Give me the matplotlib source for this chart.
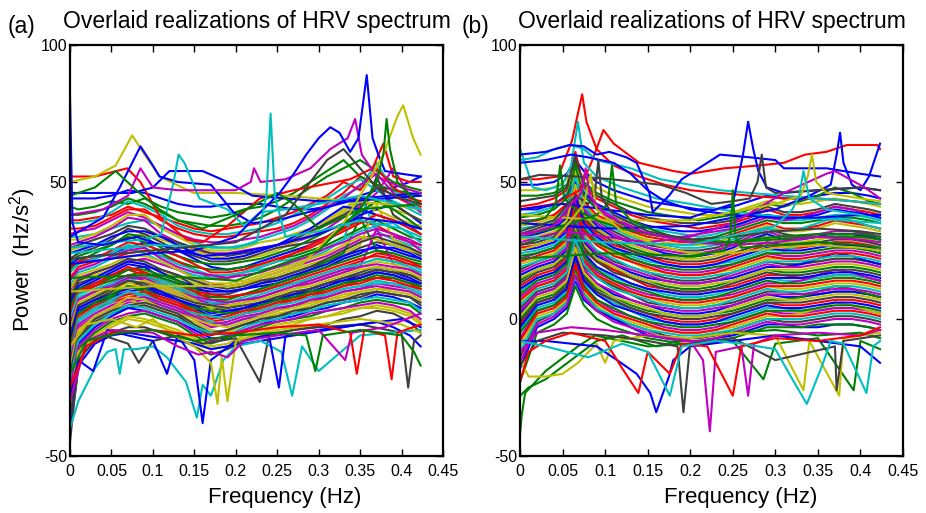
import matplotlib
matplotlib.use("Agg")
import matplotlib.pyplot as plt

plt.rcParams['font.family'] = ['Liberation Sans', 'DejaVu Sans']
plt.rcParams['mathtext.default'] = 'regular'
plt.rcParams['axes.unicode_minus'] = False

# MATLAB default line colour order
MATLAB_COLORS = [(0, 0, 1), (0, 0.5, 0), (1, 0, 0), (0, 0.75, 0.75),
                 (0.75, 0, 0.75), (0.75, 0.75, 0), (0.25, 0.25, 0.25)]

# ---------------- panel (a) ----------------
freq_a = [0, 0.01, 0.03, 0.05, 0.07, 0.09, 0.11, 0.13, 0.15, 0.17, 0.19, 0.21,
          0.23, 0.25, 0.27, 0.29, 0.31, 0.33, 0.35, 0.37, 0.39, 0.41, 0.423]

band_a = [
    [44, 44, 44, 45, 47, 46, 44, 42, 41, 41, 42, 42, 42, 41, 40, 40, 41, 43, 45, 47, 48, 50, 52],
    [38, 38, 39, 41, 44, 42, 39, 36, 35, 34, 34, 35, 37, 40, 44, 48, 52, 55, 58, 54, 50, 48, 47],
    [33, 33, 34, 37, 40, 40, 36, 33, 31, 30, 30, 31, 32, 33, 35, 38, 42, 46, 52, 49, 45, 42, 41],
    [30, 30, 31, 33, 35, 36, 34, 31, 28, 26, 26, 27, 29, 31, 33, 36, 40, 45, 48, 57, 47, 43, 40],
    [27, 28, 30, 33, 37, 36, 31, 28, 25, 24, 24, 25, 26, 27, 28, 30, 33, 37, 41, 46, 55, 45, 42],
    [25, 26, 27, 28, 30, 31, 29, 27, 25, 23, 22, 22, 23, 25, 28, 31, 35, 39, 44, 40, 37, 35, 34],
    [22, 24, 26, 29, 33, 31, 28, 25, 23, 21, 21, 22, 24, 26, 27, 28, 30, 33, 36, 52, 38, 34, 31],
    [20, 22, 23, 24, 26, 28, 27, 25, 22, 19, 18, 19, 21, 23, 25, 27, 30, 34, 38, 40, 42, 38, 35],
    [18, 21, 24, 27, 30, 28, 24, 21, 19, 18, 18, 19, 20, 22, 23, 25, 27, 30, 33, 36, 33, 30, 29],
    [15, 19, 21, 22, 24, 25, 23, 21, 18, 15, 15, 17, 19, 21, 24, 27, 30, 33, 36, 34, 31, 28, 27],
    [12, 17, 19, 22, 26, 24, 21, 18, 16, 15, 16, 17, 18, 19, 20, 22, 25, 29, 45, 32, 29, 27, 26],
    [10, 15, 17, 19, 21, 22, 20, 18, 15, 13, 12, 13, 15, 17, 19, 21, 23, 26, 29, 31, 30, 28, 25],
    [9, 14, 16, 18, 21, 20, 17, 15, 13, 12, 12, 13, 14, 16, 18, 20, 22, 24, 27, 42, 29, 26, 24],
    [7, 13, 15, 16, 18, 19, 18, 16, 12, 9, 9, 11, 13, 15, 17, 19, 21, 23, 26, 28, 27, 25, 23],
    [5, 11, 14, 17, 20, 19, 15, 13, 11, 10, 10, 11, 12, 13, 15, 17, 19, 22, 24, 27, 25, 23, 22],
    [3, 10, 12, 14, 16, 17, 15, 13, 10, 7, 7, 9, 11, 13, 15, 18, 21, 24, 37, 25, 23, 21, 20],
    [1, 9, 12, 15, 18, 16, 13, 11, 9, 8, 8, 9, 10, 12, 13, 15, 17, 19, 21, 24, 23, 21, 19],
    [-1, 8, 10, 12, 14, 15, 13, 11, 8, 5, 6, 8, 10, 12, 13, 14, 16, 18, 20, 22, 21, 20, 18],
    [-3, 7, 10, 13, 16, 14, 11, 9, 7, 6, 5, 6, 8, 10, 12, 14, 16, 18, 19, 33, 20, 18, 17],
    [-5, 5, 8, 10, 12, 13, 11, 9, 6, 3, 4, 6, 7, 9, 11, 13, 15, 17, 19, 21, 20, 18, 16],
    [-7, 4, 7, 10, 14, 12, 9, 7, 5, 4, 3, 4, 6, 8, 10, 11, 13, 15, 17, 19, 18, 16, 15],
    [-9, 3, 6, 8, 10, 11, 9, 7, 4, 1, 2, 4, 5, 7, 9, 11, 13, 14, 16, 18, 17, 15, 13],
    [-11, 2, 5, 8, 12, 10, 7, 5, 3, 1, 0, 2, 4, 6, 8, 9, 11, 13, 15, 17, 16, 14, 12],
    [-13, 0, 4, 6, 8, 9, 7, 5, 2, -1, 0, 2, 3, 5, 7, 8, 10, 12, 14, 15, 15, 13, 11],
    [-15, -1, 3, 6, 10, 8, 5, 3, 1, -1, -2, 0, 2, 4, 5, 7, 9, 11, 12, 14, 13, 12, 10],
    [-17, -3, 1, 4, 6, 7, 5, 3, 0, -3, -2, 0, 1, 3, 5, 6, 8, 10, 11, 13, 12, 11, 9],
    [-19, -5, 0, 3, 7, 5, 3, 1, -1, -4, -5, -2, 0, 2, 3, 5, 7, 8, 10, 11, 11, 10, 8],
    [-21, -7, -1, 2, 4, 5, 3, 1, -3, -6, -4, -2, -1, 1, 2, 4, 6, 7, 9, 10, 9, 8, 6],
    [-24, -9, -3, 1, 4, 3, 1, -1, -4, -7, -7, -4, -2, 0, 1, 3, 4, 6, 7, 9, 8, 6, 4],
    [-27, -11, -5, -1, 1, 2, 0, -2, -6, -9, -7, -5, -3, -1, 0, 1, 3, 4, 6, 7, 6, 5, 2],
    [-31, -13, -7, -3, 0, -1, -3, -5, -8, -11, -10, -7, -5, -3, -2, 0, 1, 2, 4, 5, 4, 2, -1],
    [-36, -15, -8, -5, -3, -3, -5, -7, -10, -13, -11, -8, -6, -5, -4, -3, -2, 0, 1, 3, 2, -1, -5],
    [-42, -17, -9, -6, -5, -6, -7, -8, -9, -11, -10, -9, -8, -7, -6, -5, -4, -3, -2, -1, -3, -6, -10],
    # second batch, sitting between the first ones
    [41, 40, 41, 43, 42, 44, 41, 39, 38, 37, 38, 40, 41, 43, 46, 50, 54, 58, 52, 49, 47, 46, 45],
    [36, 36, 37, 38, 41, 39, 37, 35, 33, 32, 33, 34, 35, 37, 39, 42, 45, 50, 47, 55, 48, 44, 43],
    [35, 35, 36, 39, 43, 41, 38, 34, 32, 31, 31, 32, 33, 35, 38, 41, 44, 48, 51, 47, 43, 40, 38],
    [31, 32, 33, 36, 39, 37, 34, 31, 29, 28, 28, 29, 30, 32, 34, 37, 41, 44, 49, 53, 46, 42, 39],
    [29, 29, 31, 34, 38, 38, 33, 30, 27, 25, 25, 26, 28, 29, 31, 33, 36, 40, 45, 43, 40, 38, 36],
    [26, 27, 29, 31, 34, 33, 30, 28, 26, 24, 23, 24, 25, 27, 29, 32, 35, 38, 42, 48, 42, 38, 36],
    [24, 25, 27, 30, 32, 32, 30, 27, 24, 22, 22, 23, 25, 27, 30, 33, 37, 41, 40, 38, 36, 34, 33],
    [21, 23, 25, 27, 31, 30, 26, 23, 21, 20, 20, 21, 22, 24, 26, 29, 32, 35, 39, 43, 40, 36, 33],
    [19, 21, 22, 25, 28, 27, 25, 23, 20, 17, 17, 18, 20, 22, 24, 26, 29, 32, 35, 38, 36, 33, 31],
    [17, 20, 22, 24, 27, 26, 23, 20, 18, 16, 16, 17, 19, 21, 22, 24, 26, 29, 32, 34, 35, 31, 28],
    [14, 18, 20, 23, 25, 26, 22, 19, 17, 16, 15, 16, 17, 19, 21, 23, 26, 28, 31, 33, 31, 29, 27],
    [11, 16, 18, 20, 23, 23, 21, 18, 15, 13, 13, 14, 16, 18, 20, 22, 24, 27, 30, 29, 27, 25, 24],
    [8, 14, 17, 19, 22, 21, 18, 16, 14, 12, 11, 12, 14, 15, 17, 19, 22, 25, 28, 30, 28, 26, 24],
    [6, 12, 15, 18, 21, 20, 17, 14, 12, 11, 10, 11, 13, 14, 16, 18, 20, 23, 25, 26, 26, 24, 22],
    [4, 11, 13, 15, 18, 18, 16, 14, 11, 8, 8, 9, 11, 13, 15, 17, 19, 21, 23, 25, 24, 22, 21],
    [2, 10, 13, 16, 19, 17, 14, 12, 10, 9, 8, 9, 10, 12, 14, 16, 18, 20, 22, 23, 22, 20, 19],
    [0, 9, 11, 13, 15, 16, 14, 12, 9, 6, 6, 7, 9, 11, 13, 15, 17, 19, 20, 22, 21, 19, 17],
    [-2, 7, 10, 12, 15, 15, 12, 10, 8, 7, 6, 7, 8, 10, 12, 13, 15, 17, 19, 20, 19, 18, 16],
    [-4, 6, 9, 11, 13, 14, 12, 10, 7, 4, 5, 6, 7, 9, 11, 12, 14, 16, 18, 19, 18, 17, 15],
    [-6, 5, 8, 11, 14, 13, 10, 8, 6, 5, 4, 5, 6, 8, 9, 11, 13, 15, 16, 18, 17, 16, 14],
    [-8, 4, 7, 9, 11, 12, 10, 7, 5, 2, 3, 4, 6, 7, 9, 10, 12, 14, 15, 17, 16, 14, 13],
    [-10, 2, 6, 9, 12, 11, 8, 6, 4, 3, 2, 3, 5, 7, 8, 10, 11, 13, 14, 16, 15, 13, 12],
    [-12, 1, 5, 7, 9, 10, 8, 6, 3, 0, 1, 3, 4, 6, 7, 9, 10, 12, 13, 15, 14, 12, 11],
    [-14, 0, 4, 7, 10, 9, 6, 4, 2, 1, 0, 2, 3, 5, 6, 8, 9, 11, 12, 13, 13, 11, 9],
    [-16, -2, 2, 5, 7, 8, 6, 4, 1, -2, -1, 1, 2, 4, 5, 7, 8, 10, 11, 12, 11, 10, 8],
    [-18, -4, 1, 4, 8, 7, 4, 2, 0, -2, -3, -1, 1, 3, 4, 6, 7, 9, 10, 11, 10, 9, 7],
    [-20, -6, 0, 3, 5, 6, 4, 2, -2, -5, -4, -2, 0, 1, 3, 4, 6, 7, 8, 10, 9, 8, 5],
    [-23, -8, -2, 2, 5, 4, 2, 0, -3, -5, -6, -3, -1, 0, 2, 3, 5, 6, 7, 8, 7, 6, 3],
    [-26, -10, -4, 0, 2, 3, 1, -1, -5, -8, -6, -4, -2, -1, 0, 2, 3, 4, 5, 6, 5, 3, 0],
    [-30, -12, -6, -2, 1, 0, -2, -4, -7, -10, -9, -6, -4, -2, -1, 0, 1, 3, 4, 4, 3, 1, -2],
]

# individual realizations with sharp peaks / dips in (a)
extra_a = [
    ([0, 0.03, 0.069, 0.085, 0.109, 0.141, 0.16, 0.19, 0.229, 0.27, 0.338, 0.365, 0.378, 0.39, 0.41, 0.423],
     [52, 52, 55, 50, 37, 29, 28, 34, 44, 47, 51, 55, 64, 52, 50, 50]),
    ([0, 0.03, 0.055, 0.075, 0.09, 0.108, 0.149, 0.2, 0.26, 0.3, 0.34, 0.38, 0.423],
     [50, 52, 56, 67, 60, 52, 46, 46, 45, 44, 43, 42, 40]),
    ([0, 0.04, 0.06, 0.085, 0.1, 0.108, 0.13, 0.17, 0.197, 0.22, 0.25, 0.3, 0.35, 0.423],
     [30, 37, 48, 63, 56, 52, 50, 49, 39, 35, 36, 40, 44, 46]),
    ([0, 0.05, 0.075, 0.1, 0.12, 0.16, 0.19, 0.22, 0.26, 0.3, 0.34, 0.38, 0.423],
     [46, 46, 46, 48, 54, 54, 50, 45, 44, 43, 43, 44, 45]),
    ([0, 0.05, 0.09, 0.11, 0.125, 0.131, 0.138, 0.156, 0.19, 0.21, 0.23, 0.26, 0.3, 0.35, 0.423],
     [26, 28, 29, 31, 50, 60, 57, 44, 40, 34, 39, 40, 42, 45, 40]),
    ([0, 0.04, 0.07, 0.085, 0.1, 0.13, 0.17, 0.2, 0.218, 0.222, 0.23, 0.26, 0.29, 0.314, 0.335, 0.344, 0.352, 0.37, 0.4, 0.423],
     [38, 40, 45, 55, 48, 47, 47, 47, 50, 55, 50, 51, 55, 62, 66, 73, 60, 52, 48, 46]),
    ([0, 0.03, 0.055, 0.08, 0.108, 0.13, 0.16, 0.2, 0.25, 0.27, 0.3, 0.35, 0.423],
     [45, 48, 54, 47, 40, 36, 33, 38, 46, 42, 33, 40, 42]),
    ([0, 0.003, 0.01, 0.04, 0.08, 0.12, 0.16, 0.2, 0.25, 0.3, 0.35, 0.4, 0.423],
     [81, 35, 28, 27, 30, 26, 23, 24, 27, 31, 37, 35, 33]),
    ([0, 0.05, 0.1, 0.15, 0.2, 0.253, 0.27, 0.285, 0.3, 0.314, 0.325, 0.338, 0.348, 0.358, 0.365, 0.372, 0.38, 0.4, 0.423],
     [20, 22, 24, 25, 30, 46, 53, 60, 66, 70, 68, 61, 66, 89, 66, 60, 54, 53, 52]),
    ([0, 0.1, 0.2, 0.28, 0.33, 0.36, 0.378, 0.395, 0.402, 0.414, 0.423],
     [10, 12, 12, 20, 35, 50, 60, 74, 78, 66, 60]),
    ([0, 0.1, 0.2, 0.3, 0.35, 0.37, 0.378, 0.382, 0.386, 0.395, 0.41, 0.423],
     [15, 16, 14, 25, 40, 50, 60, 73, 62, 50, 45, 42]),
    ([0, 0.1, 0.2, 0.225, 0.237, 0.242, 0.247, 0.26, 0.3, 0.35, 0.4, 0.423],
     [24, 27, 26, 28, 45, 75, 45, 30, 32, 36, 33, 30]),
    ([0, 0.1, 0.2, 0.26, 0.29, 0.31, 0.33, 0.35, 0.37, 0.4, 0.423],
     [22, 25, 28, 38, 50, 58, 62, 55, 48, 44, 42]),
    ([0, 0.005, 0.01, 0.02, 0.04, 0.07, 0.083, 0.1, 0.13, 0.16, 0.2, 0.229, 0.24, 0.27, 0.3, 0.35, 0.4, 0.408, 0.415, 0.423],
     [-45, -30, -18, -10, -6, -9, -16, -8, -6, -9, -7, -23, -6, -4, -3, -2, -5, -25, -8, -6]),
    ([0, 0.01, 0.03, 0.045, 0.055, 0.06, 0.065, 0.08, 0.1, 0.117, 0.14, 0.153, 0.16, 0.17, 0.185, 0.2, 0.23, 0.255, 0.268, 0.28, 0.3, 0.35, 0.423],
     [-40, -30, -18, -12, -11, -20, -11, -11, -10, -14, -23, -36, -24, -28, -15, -10, -8, -12, -28, -10, -19, -6, -4]),
    ([0, 0.01, 0.028, 0.045, 0.07, 0.1, 0.117, 0.13, 0.15, 0.16, 0.17, 0.2, 0.24, 0.252, 0.26, 0.3, 0.35, 0.4, 0.423],
     [-28, -15, -19, -4, -6, -8, -20, -6, -15, -38, -15, -8, -6, -25, -6, -4, -2, 0, -3]),
    ([0, 0.02, 0.05, 0.08, 0.1, 0.12, 0.15, 0.17, 0.178, 0.183, 0.19, 0.2, 0.25, 0.3, 0.35, 0.4, 0.423],
     [-10, -2, 0, -3, 0, -5, -10, -16, -31, -14, -30, -8, -4, -2, 0, -2, -5]),
    ([0, 0.02, 0.05, 0.1, 0.13, 0.155, 0.17, 0.19, 0.21, 0.25, 0.3, 0.332, 0.34, 0.38, 0.423],
     [-30, -8, -4, -5, -10, -13, -12, -14, -8, -6, -4, -15, -5, -3, 2]),
    ([0, 0.02, 0.05, 0.1, 0.15, 0.2, 0.25, 0.3, 0.338, 0.346, 0.355, 0.38, 0.388, 0.395, 0.423],
     [-25, -10, -5, -4, -6, -5, -3, -2, -5, -20, -4, -6, -22, -5, -2]),
    ([0, 0.02, 0.06, 0.1, 0.15, 0.2, 0.25, 0.285, 0.296, 0.305, 0.35, 0.4, 0.415, 0.423],
     [-20, -8, -5, -4, -8, -6, -5, -6, -19, -6, -4, -6, -12, -17]),
]
extra_a_colors = ['r', 'y', 'b', 'b', 'c', 'm', 'g', 'b', 'b', 'y', 'g', 'c', 'k',
                  'k', 'c', 'b', 'y', 'm', 'r', 'g']

# ---------------- panel (b) ----------------
freq_b = [0, 0.02, 0.04, 0.055, 0.065, 0.075, 0.09, 0.11, 0.13, 0.15, 0.17, 0.19,
          0.21, 0.23, 0.25, 0.27, 0.29, 0.31, 0.33, 0.35, 0.37, 0.39, 0.41, 0.423]

band_b = [
    [49, 49, 50, 53, 58, 54, 50, 47, 45, 43, 42, 41, 40, 40, 41, 43, 45, 44, 44, 45, 46, 46, 45, 44],
    [45, 45, 46, 49, 57, 50, 46, 43, 41, 39, 38, 37, 36, 37, 38, 40, 42, 41, 43, 45, 48, 46, 43, 42],
    [41, 42, 44, 47, 61, 48, 44, 41, 38, 36, 35, 34, 33, 34, 35, 37, 40, 38, 38, 39, 41, 40, 39, 38],
    [38, 39, 41, 46, 52, 47, 42, 38, 35, 33, 32, 31, 30, 31, 33, 36, 38, 36, 36, 37, 38, 38, 37, 36],
    [36, 36, 38, 41, 49, 45, 41, 37, 34, 31, 30, 30, 31, 32, 33, 35, 37, 36, 37, 39, 41, 40, 38, 37],
    [34, 35, 37, 41, 54, 42, 37, 34, 31, 29, 28, 27, 27, 28, 30, 32, 34, 32, 32, 33, 35, 34, 33, 32],
    [31, 33, 35, 39, 46, 41, 36, 32, 29, 27, 26, 25, 25, 26, 28, 31, 33, 31, 30, 30, 31, 31, 30, 29],
    [30, 31, 33, 37, 50, 39, 34, 30, 28, 26, 24, 23, 23, 24, 26, 29, 31, 29, 29, 30, 31, 31, 30, 29],
    [27, 29, 31, 35, 44, 38, 33, 29, 26, 24, 23, 22, 23, 25, 27, 29, 30, 28, 27, 27, 28, 27, 26, 25],
    [26, 27, 29, 33, 47, 36, 31, 27, 25, 23, 21, 20, 20, 21, 23, 25, 27, 26, 26, 27, 28, 28, 27, 26],
    [24, 25, 27, 31, 41, 34, 29, 26, 23, 21, 20, 19, 19, 20, 21, 23, 25, 25, 27, 29, 31, 30, 28, 27],
    [22, 24, 26, 30, 43, 33, 28, 24, 22, 20, 18, 17, 17, 18, 20, 22, 24, 23, 23, 24, 25, 25, 24, 23],
    [20, 22, 24, 28, 38, 31, 27, 24, 21, 18, 17, 16, 16, 17, 18, 20, 22, 22, 21, 21, 22, 22, 21, 20],
    [18, 21, 23, 27, 40, 30, 25, 21, 19, 17, 15, 14, 14, 15, 17, 19, 21, 20, 20, 21, 22, 22, 21, 20],
    [16, 19, 21, 25, 35, 28, 23, 20, 17, 15, 14, 13, 13, 14, 15, 17, 19, 19, 20, 22, 24, 23, 21, 20],
    [14, 18, 20, 24, 37, 27, 22, 18, 16, 14, 12, 11, 11, 12, 14, 16, 18, 17, 17, 18, 19, 19, 18, 17],
    [12, 16, 18, 22, 32, 25, 21, 18, 15, 12, 11, 10, 10, 11, 12, 14, 16, 16, 15, 15, 16, 16, 15, 14],
    [10, 15, 17, 21, 34, 24, 19, 15, 13, 11, 9, 8, 8, 9, 11, 13, 15, 14, 14, 15, 16, 16, 15, 14],
    [8, 13, 15, 19, 29, 22, 17, 14, 11, 9, 8, 7, 7, 8, 9, 11, 13, 13, 14, 16, 18, 17, 15, 14],
    [6, 12, 14, 18, 31, 21, 16, 12, 10, 8, 6, 5, 5, 6, 8, 10, 12, 11, 11, 12, 13, 13, 12, 11],
    [4, 10, 12, 16, 26, 19, 15, 12, 9, 6, 5, 4, 4, 5, 6, 8, 10, 10, 9, 9, 10, 10, 9, 8],
    [2, 9, 11, 15, 28, 18, 13, 9, 7, 5, 3, 2, 2, 3, 5, 7, 9, 8, 8, 9, 10, 10, 9, 8],
    [0, 7, 9, 13, 23, 16, 11, 8, 5, 3, 2, 1, 1, 2, 3, 5, 7, 7, 8, 10, 12, 11, 9, 8],
    [-2, 6, 8, 12, 25, 15, 10, 6, 4, 2, 0, -1, -1, 0, 2, 4, 6, 5, 5, 6, 7, 7, 6, 5],
    [-4, 4, 6, 10, 20, 13, 9, 6, 3, 0, -1, -2, -2, -1, 0, 2, 4, 4, 3, 3, 4, 4, 3, 2],
    [-7, 3, 5, 9, 22, 12, 7, 3, 1, -1, -3, -4, -4, -3, -1, 1, 3, 2, 2, 3, 4, 4, 3, 2],
    [-10, 1, 3, 7, 17, 10, 5, 2, -1, -3, -4, -5, -5, -4, -3, -1, 1, 1, 2, 4, 6, 5, 3, 2],
    [-14, -1, 2, 6, 19, 9, 4, 0, -2, -4, -6, -7, -7, -6, -4, -2, 0, -1, -1, 0, 1, 1, 0, -1],
    [-18, -3, 0, 4, 14, 7, 3, 0, -3, -6, -7, -8, -8, -7, -6, -4, -2, -2, -3, -3, -2, -2, -3, -4],
    [-23, -5, -2, 2, 12, 5, 0, -3, -5, -7, -8, -9, -9, -8, -7, -5, -3, -3, -3, -2, -2, -2, -3, -4],
    # second batch
    [47, 47, 48, 51, 55, 52, 48, 45, 43, 41, 40, 39, 38, 38, 39, 41, 43, 42, 42, 43, 44, 43, 42, 41],
    [43, 44, 45, 48, 59, 49, 45, 42, 39, 37, 36, 35, 35, 35, 36, 38, 41, 39, 39, 40, 42, 41, 40, 39],
    [40, 40, 42, 45, 50, 46, 42, 39, 36, 34, 33, 32, 32, 33, 34, 36, 38, 37, 37, 38, 40, 39, 38, 37],
    [37, 38, 40, 44, 56, 45, 40, 36, 33, 31, 30, 29, 29, 30, 32, 34, 36, 35, 35, 36, 37, 37, 36, 35],
    [35, 36, 38, 42, 48, 43, 38, 35, 32, 30, 29, 28, 28, 29, 31, 33, 35, 33, 33, 34, 36, 35, 34, 33],
    [33, 34, 36, 40, 52, 41, 36, 33, 30, 28, 27, 26, 26, 27, 29, 31, 33, 32, 33, 35, 37, 36, 34, 33],
    [31, 32, 34, 38, 45, 40, 35, 31, 28, 26, 25, 24, 24, 25, 27, 30, 32, 30, 30, 31, 32, 32, 31, 30],
    [29, 30, 32, 36, 49, 38, 33, 29, 27, 25, 23, 22, 22, 23, 25, 28, 30, 28, 28, 29, 30, 30, 29, 28],
    [27, 28, 30, 34, 42, 37, 32, 28, 25, 23, 22, 21, 21, 22, 24, 26, 28, 27, 27, 28, 29, 29, 28, 27],
    [25, 26, 28, 32, 45, 35, 30, 26, 24, 22, 20, 19, 19, 20, 22, 24, 26, 25, 25, 26, 27, 27, 26, 25],
    [23, 24, 26, 30, 39, 33, 28, 25, 22, 20, 19, 18, 18, 19, 20, 22, 24, 24, 24, 25, 26, 26, 25, 24],
    [21, 23, 25, 29, 42, 32, 27, 23, 21, 19, 17, 16, 16, 17, 19, 21, 23, 22, 22, 23, 24, 24, 23, 22],
    [19, 21, 23, 27, 36, 30, 25, 22, 19, 17, 16, 15, 15, 16, 17, 19, 21, 21, 21, 22, 23, 23, 22, 21],
    [17, 20, 22, 26, 38, 29, 24, 20, 18, 16, 14, 13, 13, 14, 16, 18, 20, 19, 19, 20, 21, 21, 20, 19],
    [15, 18, 20, 24, 33, 27, 22, 19, 16, 14, 13, 12, 12, 13, 14, 16, 18, 18, 18, 19, 20, 20, 19, 18],
    [13, 17, 19, 23, 35, 26, 21, 17, 15, 13, 11, 10, 10, 11, 13, 15, 17, 16, 16, 17, 18, 18, 17, 16],
    [11, 15, 17, 21, 30, 24, 19, 16, 13, 11, 10, 9, 9, 10, 11, 13, 15, 15, 15, 16, 17, 17, 16, 15],
    [9, 14, 16, 20, 32, 23, 18, 14, 12, 10, 8, 7, 7, 8, 10, 12, 14, 13, 13, 14, 15, 15, 14, 13],
    [7, 12, 14, 18, 27, 21, 16, 13, 10, 8, 7, 6, 6, 7, 8, 10, 12, 12, 12, 13, 14, 14, 13, 12],
    [5, 11, 13, 17, 29, 20, 15, 11, 9, 7, 5, 4, 4, 5, 7, 9, 11, 10, 10, 11, 12, 12, 11, 10],
    [3, 9, 11, 15, 24, 18, 13, 10, 7, 5, 4, 3, 3, 4, 5, 7, 9, 9, 9, 10, 11, 11, 10, 9],
    [1, 8, 10, 14, 26, 17, 12, 8, 6, 4, 2, 1, 1, 2, 4, 6, 8, 7, 7, 8, 9, 9, 8, 7],
    [-1, 6, 8, 12, 21, 15, 10, 7, 4, 2, 1, 0, 0, 1, 2, 4, 6, 6, 6, 7, 8, 8, 7, 6],
    [-3, 5, 7, 11, 23, 14, 9, 5, 3, 1, -1, -2, -2, -1, 1, 3, 5, 4, 4, 5, 6, 6, 5, 4],
    [-5, 3, 5, 9, 18, 12, 7, 4, 1, -1, -2, -3, -3, -2, -1, 1, 3, 3, 3, 4, 5, 5, 4, 3],
    [-8, 2, 4, 8, 20, 11, 6, 2, 0, -2, -4, -5, -5, -4, -2, 0, 2, 1, 1, 2, 3, 3, 2, 1],
    [-12, 0, 2, 6, 15, 9, 4, 1, -2, -4, -5, -6, -6, -5, -4, -2, 0, 0, 0, 1, 2, 2, 1, 0],
    [-16, -2, 1, 5, 16, 8, 3, -1, -3, -5, -7, -8, -8, -7, -5, -3, -1, -2, -2, -1, 0, 0, -1, -2],
]

extra_b = [
    ([0, 0.02, 0.045, 0.061, 0.068, 0.073, 0.078, 0.09, 0.11, 0.14, 0.17, 0.2, 0.235, 0.27, 0.31, 0.35, 0.39, 0.423],
     [51, 51, 52, 65, 75, 82, 72, 62, 56, 52, 49, 47, 46, 45, 44, 44, 43, 42]),
    ([0, 0.04, 0.07, 0.085, 0.098, 0.11, 0.14, 0.18, 0.2, 0.24, 0.28, 0.31, 0.335, 0.36, 0.384, 0.41, 0.42, 0.423],
     [40, 42, 47, 58, 69, 64, 57, 54, 53, 55, 56, 57, 60, 61, 63.5, 63.5, 63.5, 62]),
    ([0, 0.008, 0.015, 0.03, 0.05, 0.06, 0.068, 0.075, 0.09, 0.12, 0.16, 0.2, 0.235, 0.28, 0.33, 0.38, 0.423],
     [62, 55, 48, 47, 49, 56, 72, 57, 52, 48, 44, 42, 40, 38, 37, 36, 35]),
    ([0, 0.02, 0.04, 0.06, 0.075, 0.09, 0.13, 0.165, 0.2, 0.235, 0.27, 0.31, 0.35, 0.39, 0.423],
     [58, 59, 62, 63.5, 62, 58, 55, 51, 49, 47, 46, 45, 44, 43, 42]),
    ([0, 0.03, 0.058, 0.075, 0.09, 0.105, 0.125, 0.137, 0.152, 0.156, 0.175, 0.19, 0.215, 0.235, 0.27, 0.3, 0.31, 0.36, 0.4, 0.423],
     [60, 61, 63.5, 63, 60, 61, 59, 57, 46, 39, 45, 51, 56, 60, 59, 58, 55, 55, 53, 52]),
    ([0, 0.03, 0.06, 0.08, 0.11, 0.13, 0.15, 0.17, 0.2, 0.25, 0.3, 0.35, 0.4, 0.423],
     [57, 58, 60, 59, 57, 53, 47, 43, 40, 38, 37, 37, 38, 38]),
    ([0, 0.05, 0.1, 0.15, 0.2, 0.25, 0.262, 0.268, 0.274, 0.28, 0.29, 0.31, 0.35, 0.4, 0.423],
     [40, 42, 40, 38, 37, 42, 60, 72, 62, 54, 48, 46, 47, 48, 47]),
    ([0, 0.1, 0.2, 0.3, 0.34, 0.365, 0.372, 0.376, 0.38, 0.39, 0.4, 0.41, 0.423],
     [35, 33, 34, 40, 45, 49, 60, 68, 57, 49, 47, 52, 64]),
    ([0, 0.023, 0.068, 0.108, 0.165, 0.195, 0.225, 0.25, 0.27, 0.279, 0.284, 0.289, 0.3, 0.35, 0.4, 0.423],
     [51, 52.6, 52, 51, 49, 46, 42, 43, 44, 50, 60, 48, 46, 47, 48, 47]),
    ([0, 0.05, 0.1, 0.15, 0.2, 0.25, 0.31, 0.36, 0.37, 0.405, 0.423],
     [28, 32, 30, 28, 30, 35, 46, 53, 54, 48, 44]),
    ([0, 0.1, 0.2, 0.3, 0.33, 0.338, 0.343, 0.348, 0.36, 0.4, 0.423],
     [38, 36, 36, 42, 45, 52, 60, 50, 46, 44, 43]),
    ([0, 0.03, 0.042, 0.047, 0.052, 0.065, 0.09, 0.12, 0.15, 0.2, 0.25, 0.3, 0.35, 0.4, 0.423],
     [35, 37, 42, 56, 44, 40, 36, 33, 31, 29, 28, 30, 31, 31, 30]),
    ([0, 0.05, 0.09, 0.103, 0.108, 0.113, 0.13, 0.16, 0.2, 0.25, 0.3, 0.35, 0.4, 0.423],
     [30, 34, 38, 42, 56, 42, 36, 32, 28, 28, 29, 30, 30, 29]),
    ([0, 0.04, 0.065, 0.08, 0.088, 0.092, 0.096, 0.11, 0.15, 0.2, 0.25, 0.3, 0.35, 0.4, 0.423],
     [32, 36, 45, 42, 46, 58, 44, 38, 32, 29, 30, 32, 33, 32, 31]),
    ([0, 0.04, 0.06, 0.075, 0.083, 0.09, 0.12, 0.16, 0.2, 0.25, 0.3, 0.35, 0.4, 0.423],
     [25, 29, 36, 42, 53, 40, 32, 27, 24, 24, 26, 27, 26, 25]),
    ([0, 0.04, 0.06, 0.072, 0.077, 0.082, 0.1, 0.14, 0.2, 0.25, 0.3, 0.35, 0.4, 0.423],
     [30, 34, 42, 46, 55, 45, 38, 32, 28, 27, 28, 30, 29, 28]),
    ([0, 0.1, 0.2, 0.24, 0.247, 0.25, 0.253, 0.26, 0.3, 0.35, 0.4, 0.423],
     [22, 24, 23, 25, 30, 47, 30, 26, 27, 28, 27, 26]),
    ([0, 0.1, 0.2, 0.3, 0.32, 0.328, 0.333, 0.34, 0.36, 0.4, 0.423],
     [30, 28, 27, 34, 40, 45, 54, 44, 40, 38, 36]),
    ([0, 0.002, 0.006, 0.03, 0.068, 0.088, 0.12, 0.15, 0.2, 0.25, 0.286, 0.3, 0.35, 0.392, 0.4, 0.423],
     [-42, -35, -27, -19, -10, -6, -8, -10, -9, -8, -22, -9, -7, -26, -8, -11]),
    ([0, 0.01, 0.03, 0.06, 0.09, 0.12, 0.16, 0.2, 0.25, 0.3, 0.35, 0.4, 0.423],
     [-28, -25, -22, -15, -8, -6, -10, -7, -5, -4, -6, -5, -7]),
    ([0, 0.01, 0.03, 0.05, 0.068, 0.09, 0.1, 0.11, 0.15, 0.2, 0.25, 0.3, 0.333, 0.34, 0.375, 0.38, 0.423],
     [-15, -21, -21, -20, -16, -9, -16, -8, -6, -7, -5, -6, -26, -8, -28, -7, -5]),
    ([0, 0.03, 0.06, 0.09, 0.114, 0.137, 0.153, 0.16, 0.168, 0.175, 0.18, 0.2, 0.25, 0.3, 0.35, 0.4, 0.423],
     [-8, -8, -9, -10, -15, -20, -27, -34, -27, -21, -15, -10, -8, -6, -8, -10, -16]),
    ([0, 0.02, 0.05, 0.1, 0.15, 0.185, 0.192, 0.2, 0.25, 0.3, 0.37, 0.372, 0.38, 0.423],
     [-17, -8, -5, -6, -8, -10, -34, -9, -7, -15, -10, -26, -8, -6]),
    ([0, 0.02, 0.06, 0.1, 0.15, 0.2, 0.215, 0.223, 0.23, 0.26, 0.268, 0.275, 0.3, 0.35, 0.4, 0.423],
     [-12, -5, -3, -4, -6, -8, -15, -41, -12, -10, -28, -9, -6, -5, -6, -4]),
    ([0, 0.01, 0.03, 0.06, 0.1, 0.12, 0.139, 0.15, 0.176, 0.19, 0.22, 0.25, 0.26, 0.3, 0.35, 0.4, 0.423],
     [-23, -12, -8, -5, -8, -18, -27, -12, -20, -9, -10, -28, -10, -7, -8, -6, -3]),
    ([0, 0.03, 0.08, 0.12, 0.15, 0.176, 0.19, 0.23, 0.26, 0.3, 0.32, 0.337, 0.355, 0.365, 0.38, 0.407, 0.415, 0.423],
     [-8, -10, -14, -9, -12, -28, -10, -8, -9, -11, -22, -31, -17, -8, -9, -27, -10, -8]),
]
extra_b_colors = ['r', 'r', 'c', 'c', 'b', 'b', 'b', 'b', 'k', 'm', 'y', 'g', 'g',
                  'k', 'y', 'm', 'g', 'c', 'g', 'g', 'y', 'b', 'k', 'm', 'r', 'c']

COLOR_MAP = {'b': MATLAB_COLORS[0], 'g': MATLAB_COLORS[1], 'r': MATLAB_COLORS[2],
             'c': MATLAB_COLORS[3], 'm': MATLAB_COLORS[4], 'y': MATLAB_COLORS[5],
             'k': MATLAB_COLORS[6]}

LW = 1.5


def draw_panel(ax, freq, band, extras, extra_colors):
    """overlay all realizations on one axes"""
    for i, vals in enumerate(band):
        # offset the colour cycle for the second batch so neighbours differ
        ax.plot(freq, vals, color=MATLAB_COLORS[(i + 3 * (i // 30)) % 7], lw=LW)
    for (fx, fy), c in zip(extras, extra_colors):
        ax.plot(fx, fy, color=COLOR_MAP[c], lw=LW)

    ax.set_xlim(0, 0.45)
    ax.set_ylim(-50, 100)
    ax.set_xticks([0, 0.05, 0.1, 0.15, 0.2, 0.25, 0.3, 0.35, 0.4, 0.45])
    ax.set_xticklabels(['0', '0.05', '0.1', '0.15', '0.2', '0.25', '0.3', '0.35', '0.4', '0.45'])
    ax.set_yticks([-50, 0, 50, 100])
    ax.tick_params(direction='in', top=True, right=True, length=5, width=1,
                   labelsize=11.5)
    ax.tick_params(axis='x', pad=6)
    ax.tick_params(axis='y', pad=2)
    for sp in ax.spines.values():
        sp.set_linewidth(1.6)
    ax.set_title('Overlaid realizations of HRV spectrum', fontsize=16.5, pad=12)
    ax.set_xlabel('Frequency (Hz)', fontsize=16)
    ax.xaxis.set_label_coords(0.576, -0.075)


fig = plt.figure(figsize=(9.26, 5.13), dpi=100)
ax1 = fig.add_axes([0.0756, 0.1111, 0.4028, 0.8012])
ax2 = fig.add_axes([0.5616, 0.1111, 0.4136, 0.8012])

draw_panel(ax1, freq_a, band_a, extra_a, extra_a_colors)
draw_panel(ax2, freq_b, band_b, extra_b, extra_b_colors)

ax1.set_ylabel('Power  (Hz/s$^2$)', fontsize=16)
ax1.yaxis.set_label_coords(-0.085, 0.477)

fig.text(8 / 926, 1 - 33 / 513, '(a)', fontsize=16.5, va='baseline')
fig.text(462 / 926, 1 - 33 / 513, '(b)', fontsize=16.5, va='baseline')

fig.savefig('out.png', dpi=100)
